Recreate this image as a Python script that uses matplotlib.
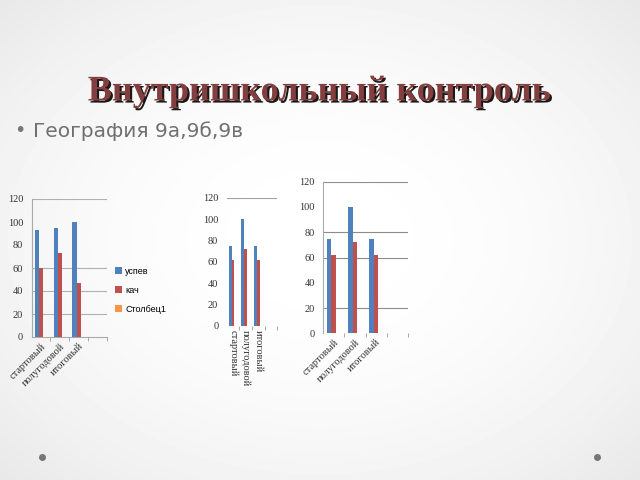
import numpy as np
import matplotlib
matplotlib.use("Agg")
import matplotlib.pyplot as plt
import matplotlib.patheffects as pe

# данные
categories = ["стартовый", "полугодовой", "итоговый"]
series_names = ["успев", "кач", "Столбец1"]

uspev_1 = [93, 95, 100]
kach_1 = [60, 73, 47]
uspev_2 = [75, 100, 75]
kach_2 = [62, 72, 62]
uspev_3 = [75, 100, 75]
kach_3 = [62, 72, 62]
stolbets = [np.nan, np.nan, np.nan]  # пустой ряд

yticks = [0, 20, 40, 60, 80, 100, 120]
colors = ["#4F81BD", "#C0504D", "#F79646"]

fig = plt.figure(figsize=(6.4, 4.8), dpi=100)

# фон слайда
bg = fig.add_axes([0, 0, 1, 1], zorder=-10)
yy, xx = np.mgrid[-1:1:480j, -1:1:640j]
v = 1 - 0.09 * (xx ** 2 + yy ** 2) / 2
bg.imshow(v, cmap="gray", vmin=0, vmax=1, aspect="auto", extent=[0, 1, 0, 1])
bg.plot([42 / 640, 597 / 640], [1 - 457 / 480] * 2, "o", color="#777777", ms=4)
bg.set_xlim(0, 1)
bg.set_ylim(0, 1)
bg.axis("off")

fig.text(0.5, 1 - 92 / 480, "Внутришкольный контроль", ha="center", va="center",
         family="Liberation Serif", weight="bold", fontsize=26, color="#833f3f",
         path_effects=[pe.withSimplePatchShadow(offset=(1.5, -1.5), shadow_rgbFace="black", alpha=0.9)])
fig.text(14 / 640, 1 - 131 / 480, "•", ha="left", va="center", fontsize=14, color="#777777")
fig.text(33 / 640, 1 - 131 / 480, "География 9а,9б,9в", ha="left", va="center",
         family="DejaVu Sans", fontsize=14.5, color="#707070")


def chart(rect, uspev, kach, rot, grid, gridcolor, left_spine, base):
    ax = fig.add_axes(rect)
    ax.patch.set_alpha(0)
    x = np.arange(len(categories))
    w = 0.222
    for i, vals in enumerate([uspev, kach, stolbets]):
        ax.bar(x + (i - 1) * w, vals, w, color=colors[i], zorder=3, label=series_names[i])
    ax.set_xlim(-0.5, 3.5)
    ax.set_ylim(0, 120)
    ax.set_yticks(yticks)
    ax.set_yticklabels([str(t) for t in yticks], family="Liberation Serif", fontsize=7.5, color="#333333")
    for g in grid:
        ax.axhline(g, color=gridcolor, lw=0.8, zorder=1)
    ax.set_xticks([0.5, 1.5, 2.5, 3.5], minor=True)
    ax.set_xticks(x)
    if rot == 45:
        ax.set_xticklabels(categories, rotation=45, ha="right", rotation_mode="anchor",
                           family="Liberation Serif", fontsize=7.5, color="#333333")
    else:
        ax.set_xticklabels(categories, rotation=-90, ha="center", va="top",
                           family="Liberation Serif", fontsize=7.5, color="#333333")
    ax.tick_params(axis="x", which="major", length=0, pad=3)
    ax.tick_params(axis="x", which="minor", length=3, color="#999999")
    ax.tick_params(axis="y", length=0, pad=6)
    for s in ["top", "right"]:
        ax.spines[s].set_visible(False)
    ax.spines["left"].set_visible(left_spine)
    ax.spines["left"].set_color("#aaaaaa")
    ax.spines["bottom"].set_visible(base)
    ax.spines["bottom"].set_color("#aaaaaa")
    return ax


ax1 = chart([31.5 / 640, 1 - 337 / 480, 75.5 / 640, 138 / 480], uspev_1, kach_1, 45,
            [20, 40, 60, 120], "#b0b0b0", True, True)
ax1.legend(loc="center left", bbox_to_anchor=(1.0, 0.34), frameon=False,
           prop={"family": "Liberation Sans", "size": 6.5}, handlelength=0.8, handleheight=0.8,
           handletextpad=0.3, labelspacing=1.1)

ax2 = chart([226.6 / 640, 1 - 325.7 / 480, 50.8 / 640, 128 / 480], uspev_2, kach_2, -90,
            [120], "#a0a0a0", False, False)

ax3 = chart([323 / 640, 1 - 333.3 / 480, 85 / 640, 151.6 / 480], uspev_3, kach_3, 45,
            [20, 60, 80, 120], "#8c8c8c", True, False)

fig.savefig("out.png", dpi=100)
